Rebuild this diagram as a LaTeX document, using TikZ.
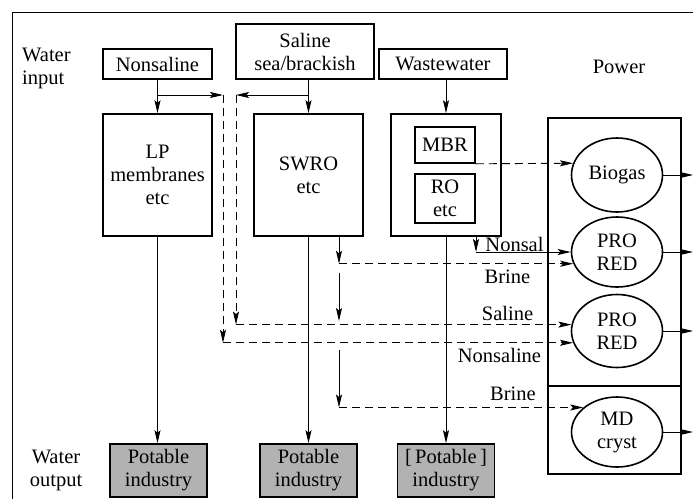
\documentclass[tikz,border=0pt]{standalone}
\usepackage{fontspec}
\setmainfont{Liberation Serif}
\usetikzlibrary{arrows.meta,shapes.geometric}
\begin{document}
\begin{tikzpicture}[x=1pt,y=-1pt,
  every node/.style={font=\fontsize{20.5}{23}\selectfont, align=center, inner sep=0pt},
  box/.style={draw, line width=1.6pt, rectangle},
  outbox/.style={box, fill=black!30, minimum width=97pt, minimum height=53pt},
  ell/.style={draw, line width=1.6pt, ellipse, minimum width=91pt},
  conn/.style={line width=0.9pt, -{Stealth[length=13pt,width=6pt,inset=2.5pt]}},
  plain/.style={line width=0.9pt},
  dsh/.style={conn, dash pattern=on 8pt off 5pt},
  dshplain/.style={plain, dash pattern=on 8pt off 5pt}
]
\useasboundingbox (0,0) rectangle (693,499);
% outer frame
\draw[line width=0.9pt] (12,499) -- (12,12) -- (693,12);
\coordinate (rt) at (693,0);

% text labels
\node[anchor=west, align=left] (win) at (22,68) {Water\\input};
\node (wout) at (56,470) {Water\\output};
\node (pow) at (619,67) {Power};

% input boxes
\node[box, minimum width=109pt, minimum height=30pt] (nons) at (157.5,64) {Nonsaline};
\node[box, minimum width=138pt, minimum height=55pt] (sal) at (305,51.5) {Saline\\sea/brackish};
\node[box, minimum width=128pt, minimum height=30pt] (ww) at (443,64) {Wastewater};

% process boxes
\node[box, minimum width=109pt, minimum height=122pt] (lp) at (157.5,175) {LP\\membranes\\etc};
\node[box, minimum width=109pt, minimum height=122pt] (swro) at (308.5,175) {SWRO\\etc};
\node[box, minimum width=110pt, minimum height=122pt] (wwb) at (446,175) {};
\node[box, minimum width=60pt, minimum height=36pt] (mbr) at (445,145) {MBR};
\node[box, minimum width=60pt, minimum height=49pt] (ro) at (445,198.5) {RO\\etc};

% power box
\node[box, minimum width=133pt, minimum height=356pt] (pbox) at (614.5,296) {};
\draw[line width=1.6pt] (pbox.west |- 0,386) -- (pbox.east |- 0,386);
\node[ell, minimum height=74pt] (bio) at (617,175) {Biogas};
\node[ell, minimum height=70pt] (pro1) at (617,252) {PRO\\RED};
\node[ell, minimum height=73pt] (pro2) at (617,331) {PRO\\RED};
\node[ell, minimum height=70pt] (md) at (617,432) {MD\\cryst};

% output boxes
\node[outbox] (p1) at (158.5,470.5) {Potable\\industry};
\node[outbox] (p2) at (308.5,470.5) {Potable\\industry};
\node[outbox] (p3) at (446,470.5) {[\,Potable\,]\\industry};

% main vertical flows
\draw[conn] (nons.south) -- (lp.north);
\draw[conn] (sal.south -| swro.north) -- (swro.north);
\draw[conn] (ww.south -| wwb.north) -- (wwb.north);
\draw[conn] (lp.south) -- (lp.south |- p1.north);
\draw[conn] (swro.south) -- (swro.south |- p2.north);
\draw[conn] (wwb.south) -- (wwb.south |- p3.north);

% branches at the top
\coordinate (jn) at (nons.south |- 0,95);
\coordinate (js) at (swro.north |- 0,95);
\coordinate (c1) at (223,95);
\coordinate (c2) at (236,95);
\draw[conn] (jn) -- (c1);
\draw[conn] (js) -- (c2);
\draw[dsh] (c1) -- (c1 |- pro2.195);
\draw[dsh] (c1 |- pro2.195) -- (pro2.195);
\draw[dsh] (c2) -- (c2 |- pro2.172);
\draw[dsh] (c2 |- pro2.172) -- (pro2.172);

% MBR to biogas
\draw[dsh] (mbr.south east) -- (bio.165);

% Nonsal from wastewater box
\coordinate (nx) at (476,0 |- pro1.180);
\draw[conn] (wwb.south -| nx) -- (nx);
\draw[conn] (nx) -- (pro1.180);
\node[anchor=base] (lnonsal) at (514.5,251) {Nonsal};

% brine outlets from SWRO
\coordinate (bx1) at (339,0 |- pro1.195);
\draw[conn] (swro.south -| bx1) -- (bx1);
\draw[dsh] (bx1) -- (pro1.195);
\coordinate (m1) at (339,273);
\coordinate (m2) at (339,321);
\draw[conn] (m1) -- (m2);
\coordinate (m3) at (339,350);
\coordinate (bx3) at (339,0 |- md.144);
\draw[conn] (m3) -- (bx3);
\draw[dsh] (bx3) -- (md.144);

% labels on flows
\node (lbrine1) at (507.5,277) {Brine};
\node (lsaline) at (507.5,313) {Saline};
\node (lnons) at (499.5,355) {Nonsaline};
\node (lbrine2) at (513,394) {Brine};

% power outputs
\draw[conn] (bio.east) -- (bio.east -| rt);
\draw[conn] (pro1.east) -- (pro1.east -| rt);
\draw[conn] (pro2.east) -- (pro2.east -| rt);
\draw[conn] (md.east) -- (md.east -| rt);
\end{tikzpicture}
\end{document}
